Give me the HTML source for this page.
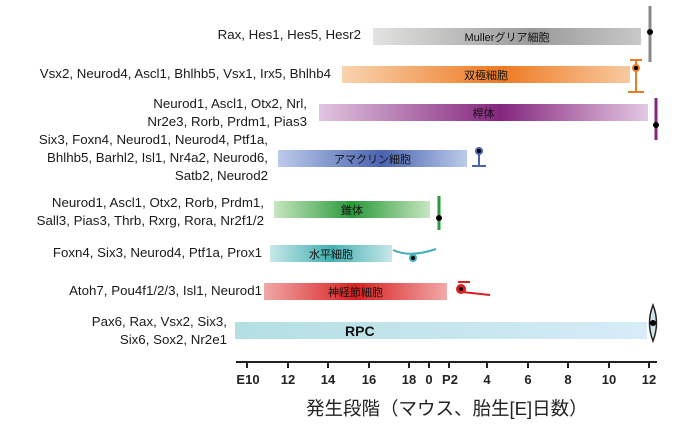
<!DOCTYPE html>
<html><head><meta charset="utf-8"><style>
body{margin:0;width:700px;height:433px;background:#fff;position:relative;overflow:hidden;font-family:"Liberation Sans","Noto Sans CJK JP",sans-serif;}
.t{position:absolute;font-size:13.3px;color:#1a1a1a;text-align:right;line-height:18px;white-space:nowrap}
.b{position:absolute;height:17px;font-size:11px;color:#111;display:flex;align-items:center;justify-content:center}
.tk{position:absolute;top:372px;font-size:13px;font-weight:bold;color:#222;transform:translateX(-50%)}
</style></head><body>
<div class="t" style="right:339px;top:26px">Rax, Hes1, Hes5, Hesr2</div>
<div class="t" style="right:369px;top:65px">Vsx2, Neurod4, Ascl1, Bhlhb5, Vsx1, Irx5, Bhlhb4</div>
<div class="t" style="right:393px;top:95px">Neurod1, Ascl1, Otx2, Nrl,<br>Nr2e3, Rorb, Prdm1, Pias3</div>
<div class="t" style="right:432px;top:131px">Six3, Foxn4, Neurod1, Neurod4, Ptf1a,<br>Bhlhb5, Barhl2, Isl1, Nr4a2, Neurod6,<br>Satb2, Neurod2</div>
<div class="t" style="right:436px;top:194px">Neurod1, Ascl1, Otx2,  Rorb, Prdm1,<br>Sall3, Pias3, Thrb, Rxrg, Rora, Nr2f1/2</div>
<div class="t" style="right:438px;top:244px">Foxn4, Six3, Neurod4, Ptf1a, Prox1</div>
<div class="t" style="right:438px;top:282px">Atoh7, Pou4f1/2/3, Isl1, Neurod1</div>
<div class="t" style="right:473px;top:313px">Pax6, Rax, Vsx2, Six3,<br>Six6, Sox2, Nr2e1</div>

<div class="b" style="left:373px;top:28px;width:268px;background:linear-gradient(90deg,#e2e2e0,#9a9a9a 60%,#c8c8c8)">Mullerグリア細胞</div>
<div class="b" style="left:342px;top:66px;width:288px;background:linear-gradient(90deg,#f9d3b0,#ee7a22 55%,#f8c9a0)">双極細胞</div>
<div class="b" style="left:319px;top:104px;width:329px;background:linear-gradient(90deg,#e0c4df,#85267e 55%,#e3c8e2)">桿体</div>
<div class="b" style="left:278px;top:150px;width:189px;background:linear-gradient(90deg,#bccbea,#4a63b0 55%,#bccbea)">アマクリン細胞</div>
<div class="b" style="left:274px;top:201px;width:156px;background:linear-gradient(90deg,#c7e6c0,#2a9a3a 50%,#c7e6c0)">錐体</div>
<div class="b" style="left:270px;top:245px;width:122px;background:linear-gradient(90deg,#c7e8e8,#43afb2 50%,#c7e8e8)">水平細胞</div>
<div class="b" style="left:264px;top:283px;width:183px;background:linear-gradient(90deg,#f2a8a8,#d82020 50%,#f2a8a8)">神経節細胞</div>
<div class="b" style="left:235px;top:322px;width:412px;background:linear-gradient(90deg,#b3dfe2,#d7ecf8);font-size:14px;font-weight:bold;justify-content:flex-start;padding-left:110px;box-sizing:border-box">RPC</div>

<svg width="700" height="433" style="position:absolute;left:0;top:0">
<g stroke="#888" stroke-width="3"><line x1="650" y1="6" x2="650" y2="62"/></g>
<circle cx="650" cy="32" r="3" fill="#000"/>
<g stroke="#ee7a22" stroke-width="2" fill="none"><line x1="636" y1="60" x2="636" y2="92"/><path d="M628 92 L644 92 M630 60 L642 60"/></g>
<circle cx="636" cy="68" r="4" fill="#ee7a22"/><circle cx="636" cy="68" r="2" fill="#000"/>
<g stroke="#85267e" stroke-width="3"><line x1="656" y1="98" x2="656" y2="140"/></g><circle cx="656" cy="125" r="3" fill="#000"/>
<g stroke="#4a63b0" stroke-width="2" fill="none"><line x1="479" y1="152" x2="479" y2="166"/><path d="M472 166 L486 166"/></g><circle cx="479" cy="151" r="4" fill="#4a63b0"/><circle cx="479" cy="151" r="2" fill="#000"/>
<g stroke="#2a9a3a" stroke-width="3"><line x1="439" y1="196" x2="439" y2="230"/></g><circle cx="439" cy="218" r="3" fill="#000"/>
<path d="M393 250 Q410 258 436 249" stroke="#43afb2" stroke-width="2" fill="none"/><circle cx="413" cy="258" r="4" fill="#43afb2"/><circle cx="413" cy="258" r="2" fill="#000"/>
<path d="M458 282 L470 282 M462 292 L490 295" stroke="#d82020" stroke-width="2" fill="none"/><circle cx="461" cy="289" r="5" fill="#d82020"/><circle cx="461" cy="289" r="2" fill="#000"/>
<path d="M653 305 Q646 323 653 341 Q660 323 653 305Z" fill="#cfe3e8" stroke="#222" stroke-width="1.5"/><circle cx="653" cy="323" r="3" fill="#000"/>
<line x1="236" y1="362" x2="657" y2="362" stroke="#222" stroke-width="2"/>
<g stroke="#222" stroke-width="2">
<line x1="247" y1="362" x2="247" y2="368"/><line x1="288" y1="362" x2="288" y2="368"/><line x1="328" y1="362" x2="328" y2="368"/><line x1="369" y1="362" x2="369" y2="368"/><line x1="409" y1="362" x2="409" y2="368"/><line x1="429" y1="362" x2="429" y2="368"/><line x1="449" y1="362" x2="449" y2="368"/><line x1="487" y1="362" x2="487" y2="368"/><line x1="528" y1="362" x2="528" y2="368"/><line x1="568" y1="362" x2="568" y2="368"/><line x1="609" y1="362" x2="609" y2="368"/><line x1="649" y1="362" x2="649" y2="368"/>
</g></svg>
<div class="tk" style="left:248px">E10</div><div class="tk" style="left:288px">12</div><div class="tk" style="left:328px">14</div><div class="tk" style="left:369px">16</div><div class="tk" style="left:409px">18</div><div class="tk" style="left:429px">0</div><div class="tk" style="left:450px">P2</div><div class="tk" style="left:487px">4</div><div class="tk" style="left:528px">6</div><div class="tk" style="left:568px">8</div><div class="tk" style="left:609px">10</div><div class="tk" style="left:649px">12</div>
<div style="position:absolute;left:306px;top:395px;font-size:18.5px;color:#222;white-space:nowrap">発生段階（マウス、胎生[E]日数）</div>
</body></html>
